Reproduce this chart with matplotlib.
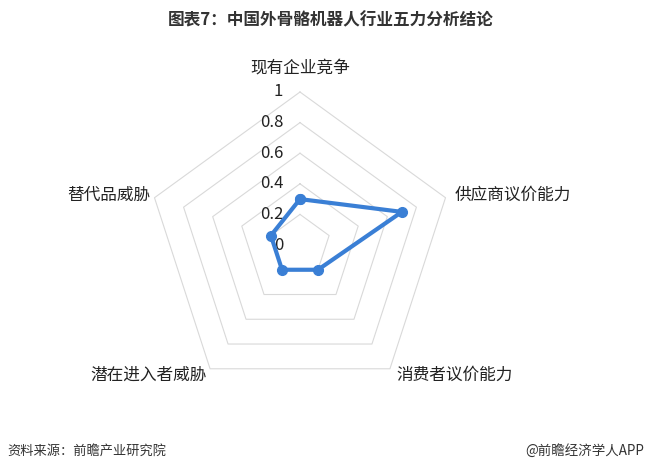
import numpy as np
import matplotlib

matplotlib.use("Agg")
import matplotlib.pyplot as plt

plt.rcParams["font.family"] = ["Noto Sans CJK SC", "DejaVu Sans"]

# ─────────────────────────────────────────────
# DATA
# ─────────────────────────────────────────────
categories = ["现有企业竞争", "供应商议价能力", "消费者议价能力", "潜在进入者威胁", "替代品威胁"]
values = [0.3, 0.7, 0.2, 0.2, 0.2]
ticks = [0, 0.2, 0.4, 0.6, 0.8, 1]
tick_labels = ["0", "0.2", "0.4", "0.6", "0.8", "1"]

title = "图表7：中国外骨骼机器人行业五力分析结论"
source = "资料来源：前瞻产业研究院"
credit = "@前瞻经济学人APP"

# ─────────────────────────────────────────────
# PLOT
# ─────────────────────────────────────────────
W, H = 646, 473
cx, cy, R = 300, 245, 153  # centre / radius in pixels

fig = plt.figure(figsize=(W / 100, H / 100), dpi=100)
ax = fig.add_axes([0, 0, 1, 1])
ax.set_xlim(-cx / R, (W - cx) / R)
ax.set_ylim(-(H - cy) / R, cy / R)
ax.axis("off")

n = len(categories)
ang = np.pi / 2 - np.arange(n) * 2 * np.pi / n
ang_c = np.append(ang, ang[0])

# pentagon grid
for t in ticks[1:]:
    ax.plot(t * np.cos(ang_c), t * np.sin(ang_c), color="#d9d9d9", lw=0.8, zorder=1)

# tick labels
for t, lab in zip(ticks, tick_labels):
    ax.text(-0.11, t, lab, ha="right", va="center", fontsize=12, color="#222222")

# series
v = np.array(values + values[:1])
ax.plot(v * np.cos(ang_c), v * np.sin(ang_c), color="#3a7fd5", lw=3, zorder=3,
        marker="o", markersize=7, solid_joinstyle="round")

# category labels
lab_pos = [
    (0.0, 1.157, "center"),
    (1.013, 0.327, "left"),
    (0.632, -0.85, "left"),
    (-0.61, -0.85, "right"),
    (-0.98, 0.327, "right"),
]
for name, (x, y, ha) in zip(categories, lab_pos):
    ax.text(x, y, name, ha=ha, va="center", fontsize=12, color="#222222")

fig.text(331 / W, 1 - 20 / H, title, ha="center", va="center", fontsize=12,
         fontweight="bold", color="#333333")
fig.text(7 / W, 1 - 451 / H, source, ha="left", va="center", fontsize=9.5, color="#333333")
fig.text(1 - 2 / W, 1 - 451 / H, credit, ha="right", va="center", fontsize=9.7, color="#333333")

fig.savefig("out.png", dpi=100)
